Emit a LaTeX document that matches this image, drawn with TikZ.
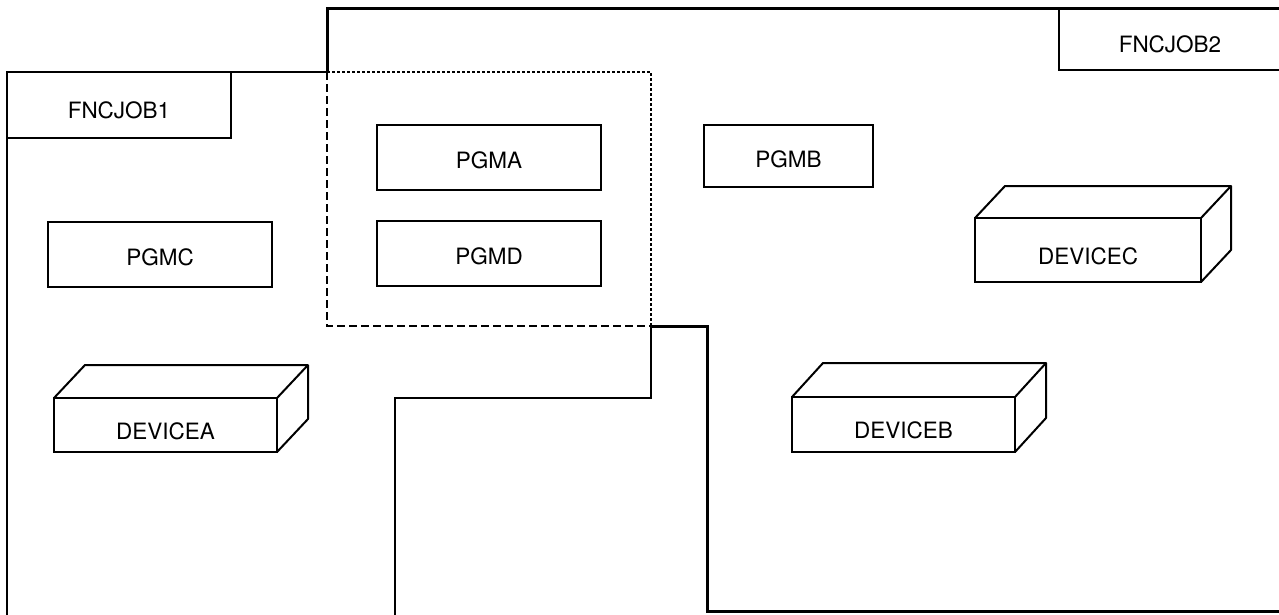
\documentclass[tikz,border=0pt]{standalone}
\usepackage{fontspec}
\setmainfont{TeX Gyre Heros}
\begin{document}
\begin{tikzpicture}[x=1pt,y=-1pt,
  every node/.style={font=\fontsize{22.5}{26}\selectfont, outer sep=0pt, inner sep=0pt},
  pgmbox/.style={draw, line width=2pt, minimum height=65pt, text height=22pt, text depth=0pt},
  labelbox/.style={draw, line width=1.6pt, text height=26pt, text depth=0pt},
  devface/.style={draw, line width=2pt, text height=28pt, text depth=0pt},
  devedge/.style={line width=2pt, line join=round},
  thinreg/.style={line width=1.5pt},
  thinreg dots/.style={line width=1.2pt, dash pattern=on 3pt off 2pt},
  thickreg/.style={line width=3pt},
  thickreg dash/.style={line width=2.8pt, dash pattern=on 8pt off 4pt}]
\useasboundingbox (0,0) rectangle (1279,614);
\clip (0,0) rectangle (1279,614);
\fill[white] (0,0) rectangle (1279,614);

% FNCJOB1 region (thin)
\draw[thinreg] (7,620) -- (7,72) -- (327,72);
\draw[thinreg dots] (327,72) -- (651,72) -- (651,326);
\draw[thinreg] (651,326) -- (651,398) -- (395,398) -- (395,620);

% FNCJOB2 region (thick)
\draw[thickreg] (327,72) -- (327,8) -- (1290,8);
\draw[thickreg dash] (327,72) -- (327,326) -- (651,326);
\draw[thickreg] (651,326) -- (707,326) -- (707,611) -- (1290,611);

% region labels
\node[labelbox, minimum width=224pt, minimum height=66pt] (job1) at (119,105) {FNCJOB1};
\node[labelbox, minimum width=222pt, minimum height=62pt, line width=2pt] (job2) at (1170,39) {FNCJOB2};

% program boxes
\node[pgmbox, minimum width=224pt] (pgma) at (489,157.5) {PGMA};
\node[pgmbox, minimum width=224pt] (pgmd) at (489,253.5) {PGMD};
\node[pgmbox, minimum width=169pt, minimum height=62pt] (pgmb) at (788.5,156) {PGMB};
\node[pgmbox, minimum width=224pt] (pgmc) at (160,254.5) {PGMC};

% devices
\node[devface, minimum width=223pt, minimum height=54pt] (deva) at (165.5,425) {DEVICEA};
\draw[devedge] (deva.north west) -- ++(31,-33) -- ++(223,0) -- ++(0,54) -- (deva.south east);
\draw[devedge] (deva.north east) -- ++(31,-33);

\node[devface, minimum width=223pt, minimum height=55pt] (devb) at (903.5,424.5) {DEVICEB};
\draw[devedge] (devb.north west) -- ++(31,-34) -- ++(223,0) -- ++(0,55) -- (devb.south east);
\draw[devedge] (devb.north east) -- ++(31,-34);

\node[devface, minimum width=226pt, minimum height=64pt] (devc) at (1088,250) {DEVICEC};
\draw[devedge] (devc.north west) -- ++(30,-32) -- ++(226,0) -- ++(0,64) -- (devc.south east);
\draw[devedge] (devc.north east) -- ++(30,-32);
\end{tikzpicture}
\end{document}
